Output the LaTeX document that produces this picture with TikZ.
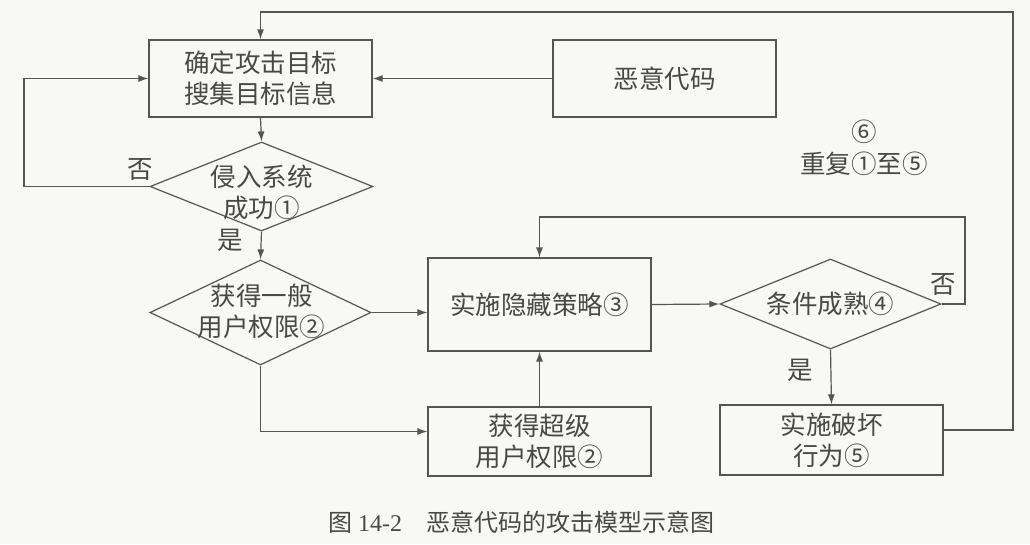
\documentclass[tikz,border=0pt]{standalone}
\usepackage{fontspec}
\newfontfamily\cjk{Noto Sans CJK SC}
\setmainfont{Liberation Serif}
\usetikzlibrary{shapes.geometric,arrows.meta,calc}
\definecolor{ln}{HTML}{555555}
\definecolor{tx}{HTML}{484848}
\definecolor{bg}{HTML}{F8F8F6}
\begin{document}
\begin{tikzpicture}[x=1pt,y=-1pt,
  every node/.style={text=tx,font=\cjk\fontsize{25.5}{31}\selectfont,align=center},
  boxn/.style={draw=ln,line width=1.2pt,rectangle,inner sep=0pt},
  dia/.style={draw=ln,line width=1.2pt,diamond,inner sep=0pt},
  arr/.style={draw=ln,line width=1.2pt,-{Latex[length=10pt,width=7pt]}},
  lbl/.style={inner sep=0pt}]
\fill[bg] (0,0) rectangle (1030,544);
\useasboundingbox (0,0) rectangle (1030,544);

\node[boxn,minimum width=223pt,minimum height=77pt] (b1) at (260.5,78.5) {确定攻击目标\\搜集目标信息};
\node[boxn,minimum width=223pt,minimum height=77pt] (mal) at (664.5,78.5) {恶意代码};
\node[dia,minimum width=223pt,minimum height=89pt] (d1) at (261.5,186.5) {};
\node[lbl] (t1) at (261.5,192) {侵入系统\\成功①};
\node[dia,minimum width=221pt,minimum height=105pt] (d2) at (260.5,312.5) {};
\node[lbl] (t2) at (261.5,311) {获得一般\\用户权限②};
\node[boxn,minimum width=223pt,minimum height=93pt] (b3) at (539.5,304.5) {实施隐藏策略③};
\node[boxn,minimum width=223pt,minimum height=69pt] (b4) at (539.5,441.5) {获得超级\\用户权限②};
\node[dia,minimum width=221pt,minimum height=90pt] (d3) at (830.5,304) {};
\node[lbl] (t3) at (830.5,304) {条件成熟④};
\node[boxn,minimum width=223pt,minimum height=70pt] (b5) at (831.5,440) {实施破坏\\行为⑤};

\node[lbl] (no1) at (140,170) {否};
\node[lbl] (yes1) at (230,240) {是};
\node[lbl] (no2) at (943,285) {否};
\node[lbl] (yes2) at (800,370) {是};
\node[lbl] (rep6) at (864,132) {⑥};
\node[lbl] (rep) at (864,164) {重复①至⑤};
\node[lbl,font=\fontsize{24}{28}\selectfont] (cap) at (521,522) {{\cjk 图} 14-2\quad{\cjk 恶意代码的攻击模型示意图}};

\coordinate (L) at (24,0);
\coordinate (R1) at (965,217);
\coordinate (R2) at (1013,12);

\draw[arr] (b1.south) -- (d1.north);
\draw[arr] (mal.west) -- (b1.east);
\draw[arr] (d1.west) -- (d1.west -| L) |- (b1.west);
\draw[arr] (d1.south) -- (d2.north);
\draw[arr] (d2.east) -- (d2.east -| b3.west);
\draw[arr] (d2.south) |- ($(b4.west)+(0,-10)$);
\draw[arr] (b4.north) -- (b3.south);
\draw[arr] (b3.east) -- (d3.west);
\draw[arr] (d3.east) -| (R1) -| (b3.north);
\draw[arr] (d3.south) -- (b5.north);
\draw[arr] ($(b5.east)+(0,-10)$) -| (R2) -| (b1.north);
\end{tikzpicture}
\end{document}
